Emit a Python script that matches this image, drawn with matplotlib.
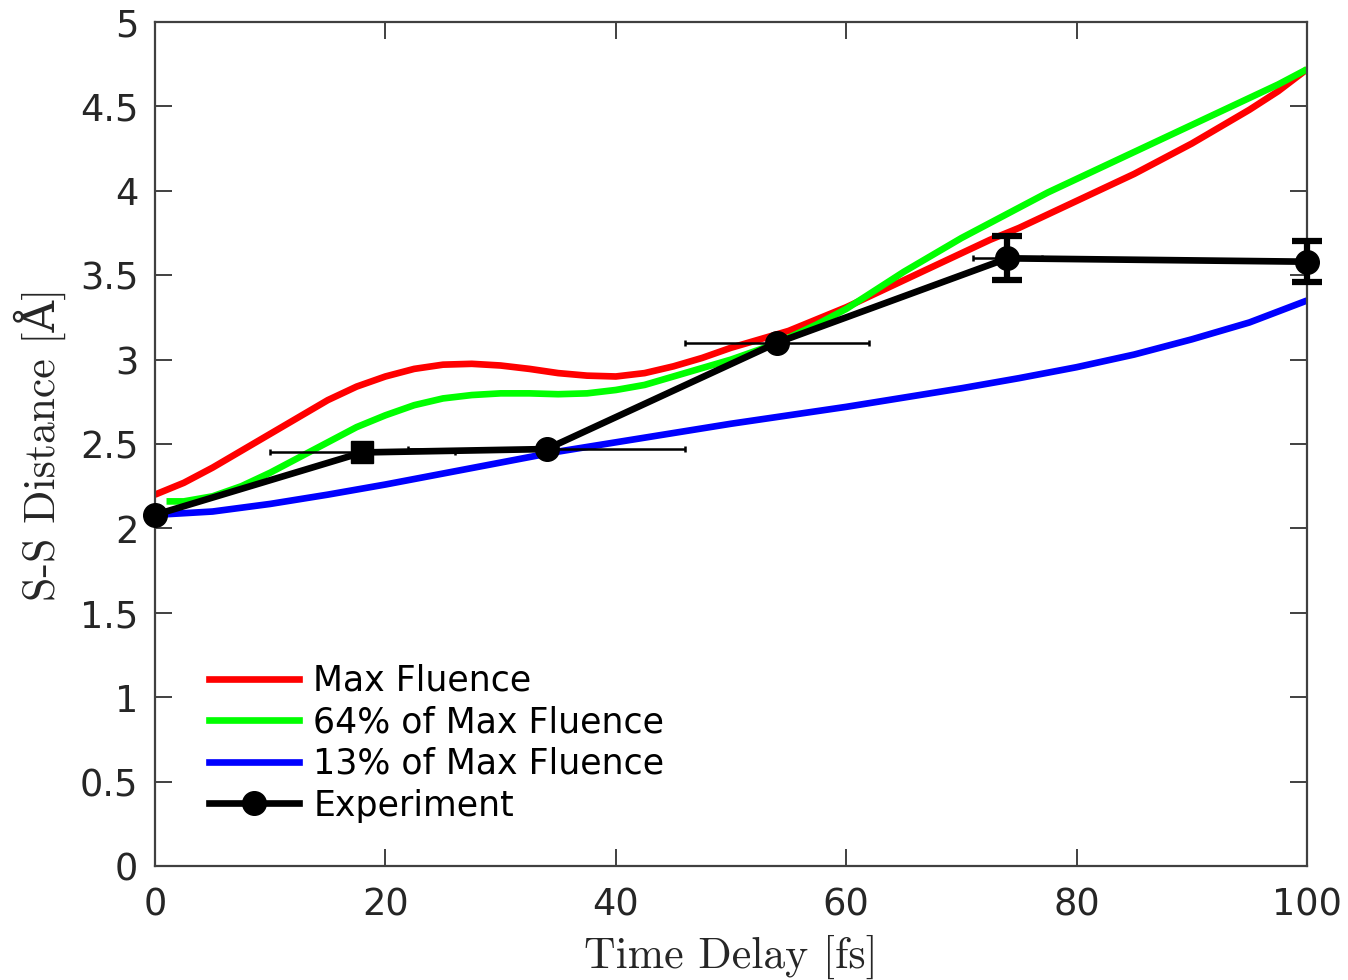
import matplotlib
matplotlib.use("Agg")
import matplotlib.pyplot as plt
from matplotlib.lines import Line2D

# Simulated S-S distance vs. time delay for three pump fluences
t_max = [0, 2.5, 5, 7.5, 10, 12.5, 15, 17.5, 20, 22.5, 25, 27.5, 30, 32.5, 35,
         37.5, 40, 42.5, 45, 47.5, 50, 52.5, 55, 57.5, 60, 62.5, 65, 67.5, 70,
         72.5, 75, 77.5, 80, 82.5, 85, 87.5, 90, 92.5, 95, 97.5, 100]
d_max = [2.20, 2.27, 2.36, 2.46, 2.56, 2.66, 2.76, 2.84, 2.90, 2.945, 2.97,
         2.975, 2.965, 2.945, 2.92, 2.905, 2.90, 2.92, 2.96, 3.01, 3.07, 3.12,
         3.17, 3.24, 3.31, 3.39, 3.47, 3.55, 3.63, 3.71, 3.78, 3.86, 3.94,
         4.02, 4.10, 4.19, 4.28, 4.38, 4.48, 4.59, 4.72]

t_64 = [1, 2.5, 5, 7.5, 10, 12.5, 15, 17.5, 20, 22.5, 25, 27.5, 30, 32.5, 35,
        37.5, 40, 42.5, 45, 47.5, 50, 52.5, 55, 57.5, 60, 62.5, 65, 67.5, 70,
        72.5, 75, 77.5, 80, 82.5, 85, 87.5, 90, 92.5, 95, 97.5, 100]
d_64 = [2.16, 2.16, 2.19, 2.25, 2.33, 2.42, 2.51, 2.60, 2.67, 2.73, 2.77,
        2.79, 2.80, 2.80, 2.795, 2.80, 2.82, 2.85, 2.90, 2.95, 3.00, 3.06,
        3.13, 3.21, 3.30, 3.41, 3.52, 3.62, 3.72, 3.81, 3.90, 3.99, 4.07,
        4.15, 4.23, 4.31, 4.39, 4.47, 4.55, 4.63, 4.72]

t_13 = [0, 5, 10, 15, 20, 25, 30, 35, 40, 45, 50, 55, 60, 65, 70, 75, 80,
        85, 90, 95, 100]
d_13 = [2.08, 2.10, 2.145, 2.20, 2.26, 2.325, 2.39, 2.455, 2.51, 2.565, 2.62,
        2.67, 2.72, 2.775, 2.83, 2.89, 2.955, 3.03, 3.12, 3.22, 3.35]

# Measured points with uncertainties
t_exp = [0, 18, 34, 54, 74, 100]
d_exp = [2.08, 2.45, 2.47, 3.10, 3.60, 3.58]
t_err = [0, 8, 12, 8, 3, 0]
d_err = [0, 0, 0, 0, 0.13, 0.12]
exp_markers = ["o", "s", "o", "o", "o", "o"]

series_labels = ["Max Fluence", "64% of Max Fluence", "13% of Max Fluence",
                 "Experiment"]
y_ticks = [0, 0.5, 1, 1.5, 2, 2.5, 3, 3.5, 4, 4.5, 5]
y_tick_labels = ["0", "0.5", "1", "1.5", "2", "2.5", "3", "3.5", "4", "4.5", "5"]
x_ticks = [0, 20, 40, 60, 80, 100]

spine_col = "#404040"
text_col = "#262626"

fig = plt.figure(figsize=(13.48, 9.80), dpi=100)
ax = fig.add_axes([155 / 1348, 114 / 980, 1152 / 1348, 844 / 980])

lw = 4.8
ax.plot(t_max, d_max, color="#ff0000", lw=lw, solid_capstyle="butt", zorder=2)
ax.plot(t_64, d_64, color="#00ff00", lw=lw, solid_capstyle="butt", zorder=2.1)
ax.plot(t_13, d_13, color="#0000ff", lw=lw, solid_capstyle="butt", zorder=2.2)

# experiment: connecting line, error bars, markers
ax.plot(t_exp, d_exp, color="black", lw=lw, zorder=3)
ax.errorbar(t_exp, d_exp, xerr=t_err, fmt="none", ecolor="black",
            elinewidth=1.8, capsize=2, capthick=1.8, zorder=3.1)
for t, d, de in zip(t_exp, d_exp, d_err):
    if de > 0:
        ax.errorbar([t], [d], yerr=[de], fmt="none", ecolor="black",
                    elinewidth=4.5, capsize=11, capthick=4.5, zorder=3.2,
                    clip_on=False)
for t, d, m in zip(t_exp, d_exp, exp_markers):
    ax.plot([t], [d], marker=m, color="black",
            markersize=17 if m == "o" else 15.5, zorder=4, clip_on=False)

ax.set_xlim(0, 100)
ax.set_ylim(0, 5)
ax.set_xticks(x_ticks)
ax.set_xticklabels([str(v) for v in x_ticks])
ax.set_yticks(y_ticks)
ax.set_yticklabels(y_tick_labels)

for sp in ax.spines.values():
    sp.set_color(spine_col)
    sp.set_linewidth(1.6)
ax.tick_params(direction="in", length=12, width=1.4, color=spine_col,
               labelcolor=text_col, labelsize=26.5, top=True, right=True,
               pad=12)
ax.tick_params(axis="x", pad=15)

label_font = dict(family=["cmr10", "DejaVu Serif"], size=31.5, color=text_col)
ax.set_xlabel("Time Delay [fs]", labelpad=8, **label_font)
ax.set_ylabel("S-S Distance [Å]", labelpad=10, **label_font)

handles = [
    Line2D([], [], color="#ff0000", lw=lw),
    Line2D([], [], color="#00ff00", lw=lw),
    Line2D([], [], color="#0000ff", lw=lw),
    Line2D([], [], color="black", lw=lw, marker="o", markersize=17),
]
leg = ax.legend(handles, series_labels, loc="lower left",
                bbox_to_anchor=(0.035, 0.035), frameon=False,
                prop=dict(family="DejaVu Sans", size=25), handlelength=2.6,
                handletextpad=0.4, labelspacing=0.22, borderaxespad=0)
for txt in leg.get_texts():
    txt.set_color("black")

fig.savefig("out.png", dpi=100, facecolor="white")
